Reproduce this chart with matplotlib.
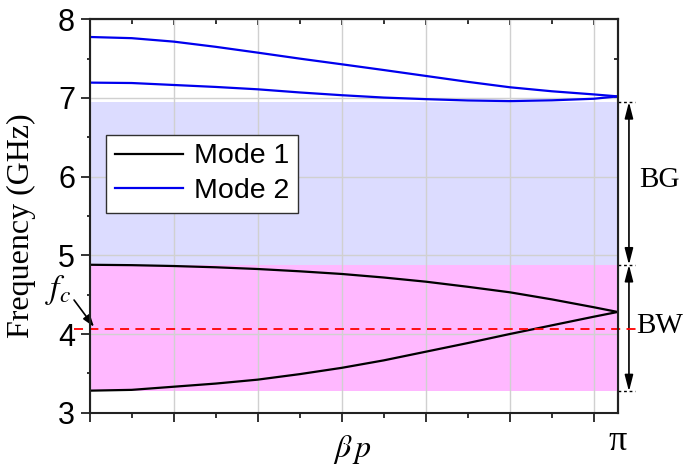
import numpy as np
import matplotlib
matplotlib.use("Agg")
import matplotlib.pyplot as plt
import matplotlib.transforms as mtransforms
from matplotlib.ticker import MultipleLocator, NullFormatter, FixedLocator, FixedFormatter

# Dispersion data (phase shift per period vs frequency in GHz)
beta_p = [0, 0.25, 0.5, 0.75, 1.0, 1.25, 1.5, 1.75, 2.0, 2.25, 2.5, 2.75, 3.0, np.pi]
mode1_upper = [4.88, 4.875, 4.864, 4.848, 4.826, 4.797, 4.763, 4.718, 4.665, 4.60, 4.53, 4.44, 4.34, 4.28]
mode1_lower = [3.28, 3.29, 3.33, 3.37, 3.42, 3.49, 3.57, 3.665, 3.775, 3.885, 4.00, 4.11, 4.22, 4.28]
mode2_upper = [7.775, 7.76, 7.716, 7.65, 7.576, 7.50, 7.428, 7.355, 7.28, 7.205, 7.136, 7.085, 7.045, 7.02]
mode2_lower = [7.195, 7.19, 7.165, 7.14, 7.11, 7.07, 7.035, 7.005, 6.985, 6.968, 6.96, 6.97, 6.99, 7.02]

band_gap = (4.88, 6.95)      # BG
bandwidth = (3.27, 4.88)     # BW
f_c = 4.06                   # centre frequency

legend_labels = ["Mode 1", "Mode 2"]
ytick_values = [3, 4, 5, 6, 7, 8]

plt.rcParams["mathtext.fontset"] = "stix"
sans = ["Liberation Sans", "DejaVu Sans"]
serif = ["Liberation Serif", "DejaVu Serif"]

fig = plt.figure(figsize=(6.84, 4.68), dpi=100)
ax = fig.add_axes([0.1311, 0.1182, 0.7719, 0.8406])

ax.set_xlim(0, np.pi)
ax.set_ylim(3, 8)

# Shaded bands
ax.axhspan(band_gap[0], band_gap[1], color="#DCDCFF", lw=0, zorder=0.2)
ax.axhspan(bandwidth[0], bandwidth[1], color="#FFB8FF", lw=0, zorder=0.2)

# Grid
ax.set_axisbelow(True)
ax.xaxis.set_major_locator(MultipleLocator(0.5))
ax.xaxis.set_minor_locator(MultipleLocator(0.25))
ax.yaxis.set_major_locator(FixedLocator(ytick_values))
ax.yaxis.set_minor_locator(MultipleLocator(0.5))
ax.grid(True, which="major", color="#D0D0D0", lw=1.0)

# Dispersion curves
ax.plot(beta_p, mode1_upper, color="black", lw=1.6, label=legend_labels[0], zorder=3)
ax.plot(beta_p, mode1_lower, color="black", lw=1.6, zorder=3)
ax.plot(beta_p, mode2_upper, color="#0000EE", lw=1.6, label=legend_labels[1], zorder=3)
ax.plot(beta_p, mode2_lower, color="#0000EE", lw=1.6, zorder=3)

# Centre-frequency line, running past both axes edges
trans = mtransforms.blended_transform_factory(ax.transAxes, ax.transData)
ax.plot([-0.03, 1.035], [f_c, f_c], transform=trans, color="red", lw=1.3,
        ls=(0, (5, 3.5)), clip_on=False, zorder=4)

# Ticks and spines
for s in ax.spines.values():
    s.set_linewidth(1.5)
    s.set_color("#222222")
    s.set_zorder(5)
ax.tick_params(axis="x", which="major", direction="out", length=6.5, width=1.3, pad=7,
               labelsize=22, color="#222222")
ax.tick_params(axis="x", which="minor", direction="out", length=3.6, width=1.3, color="#222222")
ax.tick_params(axis="y", which="major", direction="out", length=6.5, width=1.3, pad=4,
               labelsize=22, color="#222222")
ax.tick_params(axis="y", which="minor", direction="out", length=2.5, width=1.3, color="#222222")
ax.xaxis.set_major_formatter(FixedFormatter(["0"] + [""] * 10))
for lab in ax.get_xticklabels() + ax.get_yticklabels():
    lab.set_family(sans)

# Inward ticks on the top and right edges
top = ax.secondary_xaxis("top")
top.xaxis.set_major_locator(MultipleLocator(0.5))
top.xaxis.set_minor_locator(MultipleLocator(0.25))
top.xaxis.set_major_formatter(NullFormatter())
top.tick_params(which="major", direction="in", length=4.3, width=1.3, color="#222222")
top.tick_params(which="minor", direction="in", length=3.5, width=1.3, color="#222222")
top.spines["top"].set_linewidth(1.5)
right = ax.secondary_yaxis("right")
right.yaxis.set_major_locator(FixedLocator(ytick_values))
right.yaxis.set_minor_locator(MultipleLocator(0.5))
right.yaxis.set_major_formatter(NullFormatter())
right.tick_params(which="both", direction="in", length=3.0, width=1.3, color="#222222")
right.spines["right"].set_linewidth(1.5)

ax.text(np.pi, 2.64, "\u03c0", fontsize=26, family=serif, ha="center", va="center")

# Axis labels
ax.set_ylabel("Frequency (GHz)", fontsize=23, family=serif)
ax.yaxis.set_label_coords(-0.102, 0.475)
ax.text(0.497, -0.1126, r"$\beta\,p$", transform=ax.transAxes, fontsize=23,
        ha="center", va="baseline")

# Legend
leg = ax.legend(loc="upper left", bbox_to_anchor=(0.031, 0.706), borderaxespad=0,
                prop={"family": sans, "size": 20.5}, handlelength=2.4, handletextpad=0.4,
                borderpad=0.3, labelspacing=0.3, fancybox=False, framealpha=1,
                edgecolor="#303030")
leg.get_frame().set_linewidth(1.0)
for ln in leg.get_lines():
    ln.set_linewidth(1.6)

# f_c pointer
ax.annotate("", xy=(0.026, 4.09), xytext=(-0.093, 4.432), annotation_clip=False,
            arrowprops=dict(arrowstyle="-|>,head_length=0.6,head_width=0.2", color="black",
                            lw=1.2, shrinkA=0, shrinkB=0, mutation_scale=12))
ax.text(-0.19, 4.56, r"$f_c$", fontsize=24, ha="center", va="center")

# Band-gap / bandwidth markers on the right
for y in (band_gap[1], band_gap[0], bandwidth[0]):
    ax.plot([1.0, 1.033], [y, y], transform=trans, color="black", lw=1.0,
            ls=(0, (2, 2)), clip_on=False)
arrow_kw = dict(arrowstyle="<|-|>,head_length=0.7,head_width=0.18", color="black",
                lw=1.2, shrinkA=0, shrinkB=0, mutation_scale=14)
ax.annotate("", xy=(1.0214, band_gap[0]), xytext=(1.0214, band_gap[1]),
            xycoords=trans, textcoords=trans, arrowprops=arrow_kw, annotation_clip=False)
ax.annotate("", xy=(1.0214, bandwidth[0]), xytext=(1.0214, bandwidth[1]),
            xycoords=trans, textcoords=trans, arrowprops=arrow_kw, annotation_clip=False)
ax.text(1.040, 5.96, "BG", transform=trans, fontsize=21, family=serif, ha="left", va="center")
ax.text(1.035, 4.10, "BW", transform=trans, fontsize=21, family=serif, ha="left", va="center")

fig.savefig("out.png", dpi=100, facecolor="white")
